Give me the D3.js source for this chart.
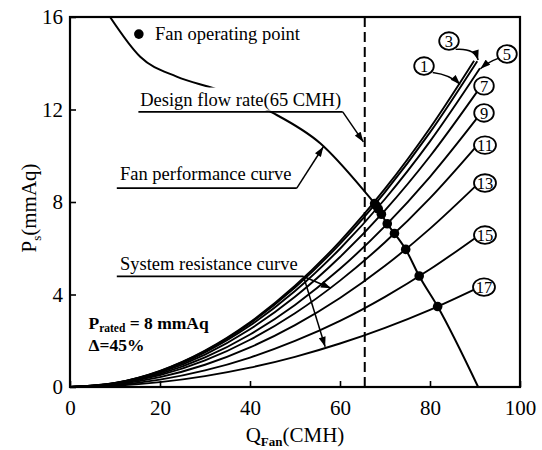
<!DOCTYPE html>
<html><head><meta charset="utf-8">
<script src="https://cdn.jsdelivr.net/npm/d3@7"></script>
<style>
body{margin:0;background:#fff}
svg{display:block}
text{font-family:"Liberation Serif","Times New Roman",serif;fill:#000}
</style>
</head><body>
<svg id="c" width="542" height="450"></svg>
<script>
// ---------- data ----------
const xTicks = [0, 20, 40, 60, 80, 100];
const yTicks = [0, 4, 8, 12, 16];
const designFlow = 65.5;

const curveIds = ["1", "3", "5", "7", "9", "11", "13", "15", "17"];
const sysQBase = [0, 10, 20, 30, 40, 50, 60, 70, 80];
const sysEndQ = [89.8, 90.5, 91.1, 90.8, 90.8, 90.3, 90.3, 90.3, 90.3];
const sys1  = [0, 0.175, 0.70, 1.575, 2.80, 4.375, 6.30, 8.575, 11.20, 14.11];
const sys3  = [0, 0.172, 0.688, 1.548, 2.752, 4.30, 6.19, 8.43, 11.01, 14.09];
const sys5  = [0, 0.166, 0.664, 1.494, 2.656, 4.15, 5.98, 8.13, 10.62, 13.78];
const sys7  = [0, 0.156, 0.624, 1.404, 2.496, 3.90, 5.62, 7.64, 9.98, 12.86];
const sys9  = [0, 0.142, 0.568, 1.278, 2.272, 3.55, 5.11, 6.96, 9.09, 11.71];
const sys11 = [0, 0.128, 0.511, 1.149, 2.043, 3.19, 4.60, 6.26, 8.17, 10.41];
const sys13 = [0, 0.107, 0.428, 0.963, 1.712, 2.675, 3.85, 5.24, 6.85, 8.72];
const sys15 = [0, 0.080, 0.318, 0.716, 1.272, 1.99, 2.86, 3.90, 5.09, 6.48];
const sys17 = [0, 0.052, 0.209, 0.470, 0.835, 1.305, 1.88, 2.56, 3.34, 4.26];
const sysP = [sys1, sys3, sys5, sys7, sys9, sys11, sys13, sys15, sys17];

// fan performance curve
const fanQ = [8.9, 15.6, 23.7, 32.6, 45.2, 55.6, 65.2, 67.7, 68.0, 68.5, 69.2, 70.5, 72.1, 74.6, 77.6, 81.7, 90.7];
const fanP = [16.0, 14.28, 13.42, 12.87, 11.84, 10.54, 8.52, 7.93, 7.85, 7.70, 7.47, 7.06, 6.64, 5.95, 4.80, 3.48, 0];

// operating points (one per system curve)
const opQ = [67.7, 68.0, 68.5, 69.2, 70.5, 72.1, 74.6, 77.6, 81.7];
const opP = [7.93, 7.85, 7.70, 7.47, 7.06, 6.64, 5.95, 4.80, 3.48];

// circled curve labels (data units)
const labQ = [78.67, 84.22, 97.11, 92.0, 92.0, 92.22, 92.22, 92.22, 92.0];
const labP = [13.88, 14.96, 14.40, 13.02, 11.85, 10.46, 8.82, 6.57, 4.32];

// ---------- layout ----------
const svg = d3.select("#c");
const x = d3.scaleLinear().domain([0, 100]).range([70, 520]);
const y = d3.scaleLinear().domain([0, 16]).range([387, 17]);
const FONT = '"Liberation Serif","Times New Roman",serif';

const defs = svg.append("defs");
defs.append("clipPath").attr("id", "plot").append("rect")
  .attr("x", x(0)).attr("y", y(16)).attr("width", x(100) - x(0)).attr("height", y(0) - y(16));
defs.append("marker").attr("id", "ah").attr("viewBox", "0 0 10 7")
  .attr("refX", 10).attr("refY", 3.5).attr("markerWidth", 11).attr("markerHeight", 7)
  .attr("markerUnits", "userSpaceOnUse").attr("orient", "auto")
  .append("path").attr("d", "M0,0 L10,3.5 L0,7 Z").attr("fill", "#000");

// axes
const xAxis = d3.axisBottom(x).tickValues(xTicks).tickSizeInner(-6).tickSizeOuter(0).tickPadding(13);
const yAxis = d3.axisLeft(y).tickValues(yTicks).tickSizeInner(-6).tickSizeOuter(0).tickPadding(7);
const gx = svg.append("g").attr("transform", `translate(0,${y(0)})`).call(xAxis);
const gy = svg.append("g").attr("transform", `translate(${x(0)},0)`).call(yAxis);
[gx, gy].forEach(g => {
  g.select(".domain").remove();
  g.attr("font-family", FONT).attr("font-size", 21);
  g.selectAll("line").attr("stroke", "#000").attr("stroke-width", 1.6);
  g.selectAll("text").attr("fill", "#000");
});

const plot = svg.append("g").attr("clip-path", "url(#plot)");

// dashed design flow line
plot.append("line")
  .attr("x1", x(designFlow)).attr("x2", x(designFlow))
  .attr("y1", y(0)).attr("y2", y(16))
  .attr("stroke", "#000").attr("stroke-width", 2).attr("stroke-dasharray", "10,5");

// system resistance curves
const line = d3.line().x(d => x(d[0])).y(d => y(d[1])).curve(d3.curveMonotoneX);
sysP.forEach((ps, i) => {
  const qs = sysQBase.concat([sysEndQ[i]]);
  const pts = qs.map((q, j) => [q, ps[j]]);
  plot.append("path").attr("d", line(pts))
    .attr("fill", "none").attr("stroke", "#000").attr("stroke-width", 1.9);
});

// fan curve
plot.append("path").attr("d", line(fanQ.map((q, i) => [q, fanP[i]])))
  .attr("fill", "none").attr("stroke", "#000").attr("stroke-width", 2);

// operating points
plot.selectAll("circle.op").data(opQ).join("circle").attr("class", "op")
  .attr("cx", d => x(d)).attr("cy", (d, i) => y(opP[i])).attr("r", 4.8).attr("fill", "#000");

// frame
svg.append("rect").attr("x", x(0)).attr("y", y(16))
  .attr("width", x(100) - x(0)).attr("height", y(0) - y(16))
  .attr("fill", "none").attr("stroke", "#000").attr("stroke-width", 2.2);

// label circles
const lg = svg.append("g");
curveIds.forEach((id, i) => {
  const cx = x(labQ[i]), cy = y(labP[i]);
  lg.append("ellipse").attr("cx", cx).attr("cy", cy)
    .attr("rx", id.length > 1 ? 11 : 9.8).attr("ry", 8.8)
    .attr("fill", "#fff").attr("stroke", "#000").attr("stroke-width", 1.8);
  lg.append("text").attr("x", cx).attr("y", cy + 5.6).attr("text-anchor", "middle")
    .attr("font-size", 16.5).text(id);
});

// curved arrows for labels 1, 3, 5
const arrowPath = (a, c, b) => `M${x(a[0])},${y(a[1])} Q${x(c[0])},${y(c[1])} ${x(b[0])},${y(b[1])}`;
[
  [[80.6, 13.6], [84.6, 13.5], [86.7, 13.08]],
  [[85.7, 14.6], [89.9, 14.66], [90.7, 14.14]],
  [[95.3, 14.22], [92.9, 14.05], [91.2, 13.76]]
].forEach(p => {
  svg.append("path").attr("d", arrowPath(p[0], p[1], p[2]))
    .attr("fill", "none").attr("stroke", "#000").attr("stroke-width", 1.5)
    .attr("marker-end", "url(#ah)");
});

// annotation helpers
function straightArrow(a, b) {
  svg.append("line").attr("x1", x(a[0])).attr("y1", y(a[1])).attr("x2", x(b[0])).attr("y2", y(b[1]))
    .attr("stroke", "#000").attr("stroke-width", 1.5).attr("marker-end", "url(#ah)");
}
function hline(q1, q2, p) {
  svg.append("line").attr("x1", x(q1)).attr("x2", x(q2)).attr("y1", y(p)).attr("y2", y(p))
    .attr("stroke", "#000").attr("stroke-width", 1.7);
}

// legend
svg.append("circle").attr("cx", x(15.3)).attr("cy", y(15.26)).attr("r", 4.8).attr("fill", "#000");
svg.append("text").attr("x", x(18.9)).attr("y", y(15.0)).attr("font-size", 18.5).text("Fan operating point");

// Design flow rate label (white backing hides curve)
svg.append("rect").attr("x", x(15.2)).attr("y", y(12.95)).attr("width", x(60.6) - x(15.2)).attr("height", y(11.95) - y(12.95)).attr("fill", "#fff");
svg.append("text").attr("x", x(15.6)).attr("y", y(12.15)).attr("font-size", 18.5).text("Design flow rate(65 CMH)");
hline(15.2, 60.6, 11.9);
straightArrow([60.6, 11.9], [65.2, 10.6]);

// Fan performance curve label
svg.append("text").attr("x", x(11.1)).attr("y", y(8.95)).attr("font-size", 18.5).text("Fan performance curve");
hline(10.4, 50.4, 8.6);
straightArrow([50.4, 8.6], [56.3, 10.39]);

// System resistance curve label
svg.append("text").attr("x", x(11.1)).attr("y", y(5.06)).attr("font-size", 18.5).text("System resistance curve");
hline(10.4, 51.9, 4.78);
straightArrow([51.9, 4.78], [58.0, 4.27]);
straightArrow([51.9, 4.78], [56.7, 1.74]);

// P_rated and delta
const pr = svg.append("text").attr("x", x(4.1)).attr("y", y(2.5)).attr("font-size", 17.5).attr("font-weight", "bold");
pr.append("tspan").text("P");
pr.append("tspan").attr("dy", 3).attr("font-size", 11.5).text("rated");
pr.append("tspan").attr("dy", -3).text(" = 8 mmAq");
svg.append("text").attr("x", x(4.1)).attr("y", y(1.55)).attr("font-size", 17.5).attr("font-weight", "bold").text("Δ=45%");

// axis titles
const xt = svg.append("text").attr("x", 295).attr("y", 442).attr("text-anchor", "middle").attr("font-size", 21);
xt.append("tspan").text("Q");
xt.append("tspan").attr("dy", 4).attr("font-size", 13).attr("font-weight", "bold").text("Fan");
xt.append("tspan").attr("dy", -4).text("(CMH)");

const yt = svg.append("text").attr("transform", `translate(36,${(y(0) + y(16)) / 2 + 6}) rotate(-90)`)
  .attr("text-anchor", "middle").attr("font-size", 21);
yt.append("tspan").text("P");
yt.append("tspan").attr("dy", 5).attr("font-size", 13).text("s");
yt.append("tspan").attr("dy", -5).text("(mmAq)");
</script>
</body></html>
